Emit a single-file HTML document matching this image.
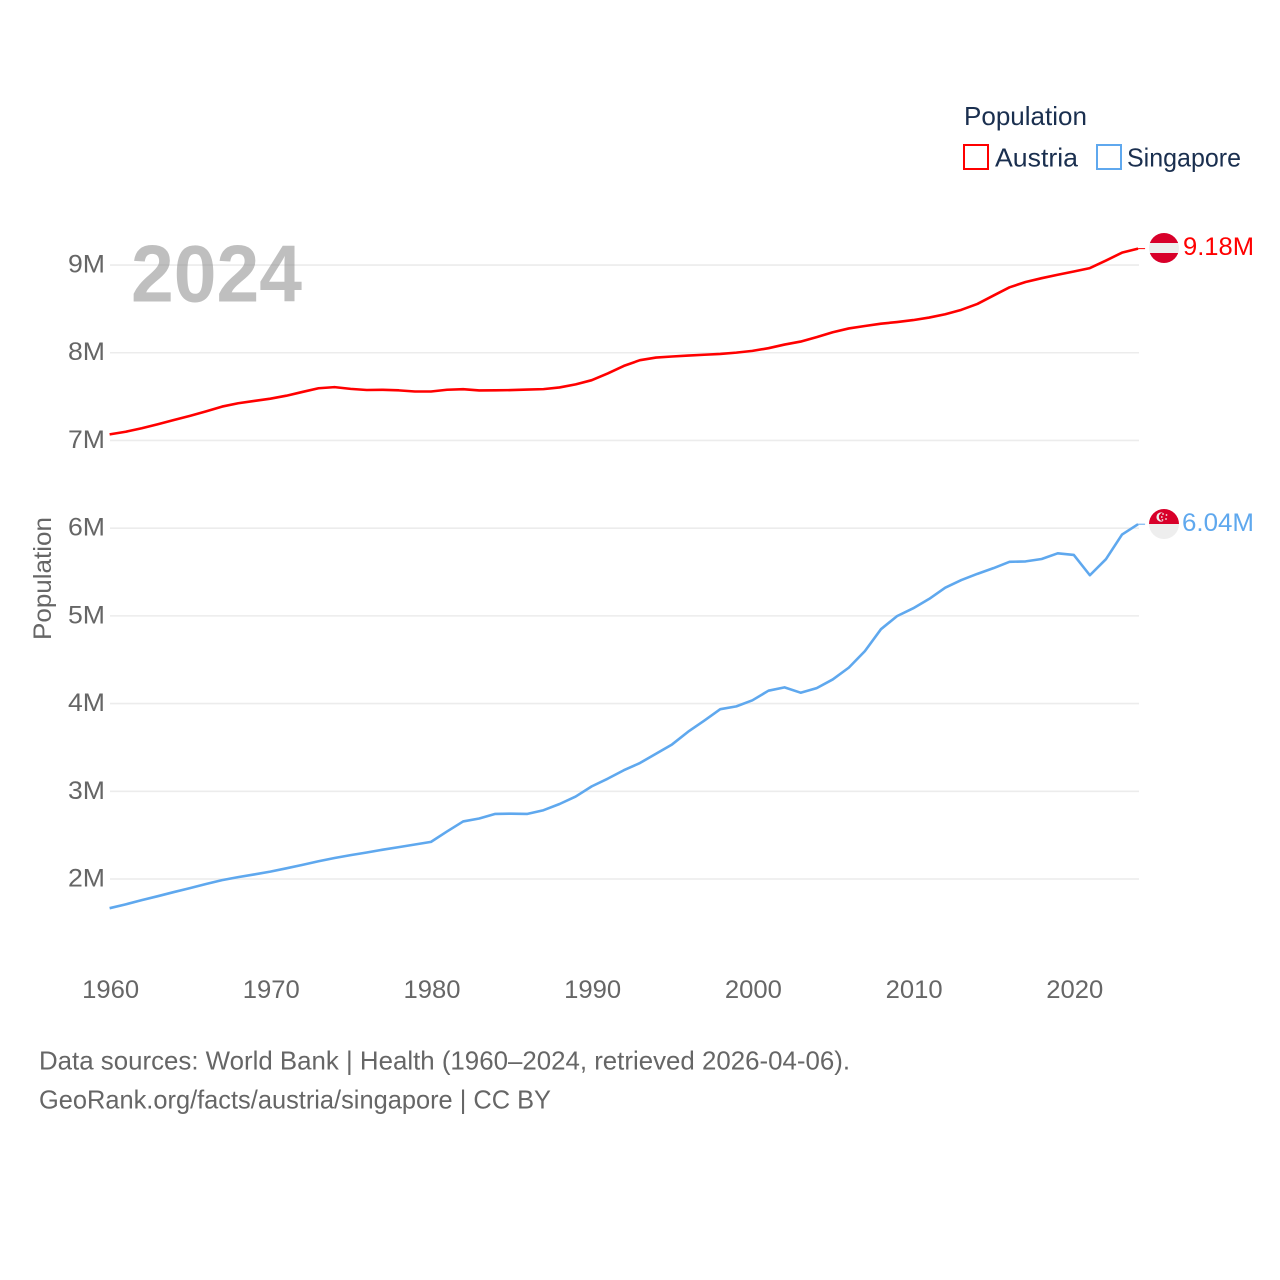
<!DOCTYPE html>
<html lang="en">
<head>
<meta charset="utf-8">
<title>Population: Austria and Singapore</title>
<style>
html,body{margin:0;padding:0;background:#fff;}
svg{display:block;}
text{font-family:"Liberation Sans",sans-serif;}
</style>
</head>
<body>
<svg id="chart" xmlns="http://www.w3.org/2000/svg" width="1280" height="1280" viewBox="0 0 1280 1280">
  <rect x="0" y="0" width="1280" height="1280" fill="#fff"/>
  <g id="grid"></g>
  <g id="yticks"></g>
  <g id="xticks"></g>
  <text x="131" y="301.5" font-size="81" font-weight="700" fill="#8a8a8a" fill-opacity="0.55" textLength="171" lengthAdjust="spacingAndGlyphs">2024</text>
  <text transform="translate(51,640) rotate(-90)" font-size="25" fill="#666" textLength="123" lengthAdjust="spacingAndGlyphs">Population</text>
  <g id="series" transform="translate(0,-0.8)"></g>
  <g id="end-labels"></g>

  <g>
    <text x="964" y="125" font-size="26" fill="#1a2f4f" textLength="123" lengthAdjust="spacingAndGlyphs">Population</text>
    <rect x="964" y="145" width="24" height="24" fill="none" stroke="#ff0000" stroke-width="2"/>
    <text x="995" y="166.5" font-size="26" fill="#1a2f4f" textLength="83" lengthAdjust="spacingAndGlyphs">Austria</text>
    <rect x="1097" y="145" width="24" height="24" fill="none" stroke="#5fa8ee" stroke-width="2"/>
    <text x="1127" y="166.5" font-size="26" fill="#1a2f4f" textLength="114" lengthAdjust="spacingAndGlyphs">Singapore</text>
  </g>

  <g>
    <clipPath id="clip-at"><circle cx="1164" cy="248" r="15"/></clipPath>
    <g clip-path="url(#clip-at)">
      <rect x="1149" y="233" width="30" height="10" fill="#d8002a"/>
      <rect x="1149" y="243" width="30" height="10" fill="#eeeeee"/>
      <rect x="1149" y="253" width="30" height="10" fill="#d8002a"/>
    </g>
  </g>
  <g>
    <clipPath id="clip-sg"><circle cx="1164" cy="524" r="15"/></clipPath>
    <g clip-path="url(#clip-sg)">
      <rect x="1149" y="509" width="30" height="15" fill="#d8002a"/>
      <rect x="1149" y="524" width="30" height="15" fill="#eeeeee"/>
    </g>
    <circle cx="1161" cy="517" r="4.6" fill="#eeeeee"/>
    <circle cx="1163" cy="517" r="4.2" fill="#d8002a"/>
    <circle cx="1163" cy="514" r="0.9" fill="#eeeeee"/>
    <circle cx="1166.5" cy="515" r="0.9" fill="#eeeeee"/>
    <circle cx="1166" cy="519" r="0.9" fill="#eeeeee"/>
    <circle cx="1162.5" cy="520" r="0.9" fill="#eeeeee"/>
    <circle cx="1161.8" cy="517" r="0.9" fill="#eeeeee"/>
  </g>

  <text x="39" y="1069.5" font-size="26" fill="#666" textLength="811" lengthAdjust="spacingAndGlyphs">Data sources: World Bank | Health (1960–2024, retrieved 2026-04-06).</text>
  <text x="39" y="1108.5" font-size="26" fill="#666" textLength="512" lengthAdjust="spacingAndGlyphs">GeoRank.org/facts/austria/singapore | CC BY</text>
</svg>
<script>
const years = [1960,1961,1962,1963,1964,1965,1966,1967,1968,1969,1970,1971,1972,1973,1974,1975,1976,1977,1978,1979,1980,1981,1982,1983,1984,1985,1986,1987,1988,1989,1990,1991,1992,1993,1994,1995,1996,1997,1998,1999,2000,2001,2002,2003,2004,2005,2006,2007,2008,2009,2010,2011,2012,2013,2014,2015,2016,2017,2018,2019,2020,2021,2022,2023,2024];
const austria = [7.06,7.09,7.13,7.175,7.224,7.271,7.322,7.377,7.415,7.441,7.467,7.501,7.544,7.586,7.599,7.579,7.566,7.568,7.562,7.549,7.549,7.569,7.575,7.561,7.562,7.565,7.571,7.576,7.595,7.63,7.678,7.755,7.841,7.906,7.936,7.948,7.959,7.968,7.977,7.992,8.012,8.043,8.084,8.118,8.169,8.225,8.268,8.296,8.322,8.341,8.363,8.392,8.43,8.48,8.547,8.643,8.737,8.797,8.841,8.88,8.917,8.956,9.042,9.132,9.178];
const singapore = [1.658,1.702,1.75,1.795,1.842,1.887,1.934,1.978,2.012,2.043,2.075,2.113,2.152,2.193,2.23,2.263,2.293,2.325,2.354,2.384,2.414,2.533,2.647,2.681,2.733,2.736,2.733,2.775,2.846,2.931,3.047,3.135,3.231,3.313,3.419,3.525,3.67,3.796,3.927,3.959,4.028,4.138,4.176,4.115,4.167,4.266,4.401,4.589,4.839,4.988,5.077,5.184,5.312,5.399,5.47,5.535,5.607,5.612,5.639,5.704,5.686,5.454,5.637,5.918,6.036];
const yTicks = [2,3,4,5,6,7,8,9];
const xTicks = [1960,1970,1980,1990,2000,2010,2020];
const austriaEndLabel = '9.18M';
const singaporeEndLabel = '6.04M';

const NS = 'http://www.w3.org/2000/svg';
function xScale(year){ return 109.6 + (year - 1960) * 16.07; }
function yScale(v){ return 879 - (v - 2) * 87.71; }
function make(tag, parent, attrs, text){
  const el = document.createElementNS(NS, tag);
  for (const k in attrs) el.setAttribute(k, attrs[k]);
  if (text !== undefined) el.textContent = text;
  parent.appendChild(el);
  return el;
}

const grid = document.getElementById('grid');
const yG = document.getElementById('yticks');
yTicks.forEach(function(t){
  const line = make('line', grid, {x1:110, x2:1139, y1:yScale(t), y2:yScale(t), stroke:'#ececec', 'stroke-width':1.6});
  
  
  const label = make('text', yG, {x:105, y:yScale(t)+7.5, 'text-anchor':'end', 'font-size':25, fill:'#666', textLength:37, lengthAdjust:'spacingAndGlyphs'}, t + 'M');
  
  
});

const xG = document.getElementById('xticks');
xTicks.forEach(function(t){
  const label = make('text', xG, {x:xScale(t)+1, y:998, 'text-anchor':'middle', 'font-size':25, fill:'#666', textLength:57, lengthAdjust:'spacingAndGlyphs'}, String(t));
  
  
});

function drawSeries(values, color, width){
  const pts = values.map(function(v,i){ return xScale(years[i]).toFixed(2) + ',' + yScale(v).toFixed(2); }).join(' ');
  const s = document.getElementById('series');
  const poly = make('polyline', s, {points:pts, fill:'none', stroke:color, 'stroke-width':width, 'stroke-linejoin':'round'});
  
  
  const last = values[values.length-1];
  const lastX = xScale(years[years.length-1]);
  const leader = make('line', s, {x1:lastX, x2:lastX+7, y1:yScale(last), y2:yScale(last), stroke:color, 'stroke-width':1});
  
  
}
drawSeries(singapore, '#5fa8ee', 2.6);
drawSeries(austria, '#ff0000', 2.6);

const endG = document.getElementById('end-labels');
const atLabel = make('text', endG, {x:1183, y:255, 'font-size':25, fill:'#ff0000', textLength:71, lengthAdjust:'spacingAndGlyphs'}, austriaEndLabel);


const sgLabel = make('text', endG, {x:1182, y:531, 'font-size':25, fill:'#5fa8ee', textLength:72, lengthAdjust:'spacingAndGlyphs'}, singaporeEndLabel);


</script>
</body>
</html>
